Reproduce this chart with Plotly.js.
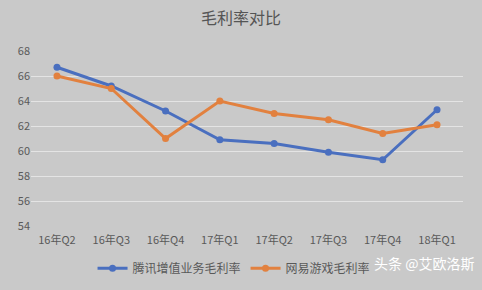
<!DOCTYPE html>
<html><head><meta charset="utf-8">
<script src="https://cdn.plot.ly/plotly-3.0.1.min.js"></script>
<style>html,body{margin:0;padding:0;background:#c9c9c9;}#c{width:482px;height:290px;}</style>
</head><body><div id="c"></div>
<script>
const categories = ["16年Q2","16年Q3","16年Q4","17年Q1","17年Q2","17年Q3","17年Q4","18年Q1"];
const tencent = [66.7, 65.2, 63.2, 60.9, 60.6, 59.9, 59.3, 63.3];
const netease = [66.0, 65.0, 61.0, 64.0, 63.0, 62.5, 61.4, 62.1];
const yTicks = [54,56,58,60,62,64,66,68];
const font = "Noto Sans CJK SC, sans-serif";
const traces = [
  {x: categories, y: tencent, name: "腾讯增值业务毛利率", type: "scatter", mode: "lines+markers",
   line: {color: "#4a6fbf", width: 3}, marker: {color: "#4a6fbf", size: 7}},
  {x: categories, y: netease, name: "网易游戏毛利率", type: "scatter", mode: "lines+markers",
   line: {color: "#e2813f", width: 3}, marker: {color: "#e2813f", size: 7}}
];
const layout = {
  width: 482, height: 290,
  paper_bgcolor: "#c9c9c9", plot_bgcolor: "#c9c9c9",
  margin: {l: 31, r: 19, t: 51, b: 64, autoexpand: false},
  title: {text: "毛利率对比", font: {family: font, size: 16, color: "#555555"}, x: 0.5, xanchor: "center", y: 0.955, yanchor: "top"},
  showlegend: true,
  legend: {orientation: "h", x: 0.47, xanchor: "center", yref: "container", y: 0.075, yanchor: "middle",
    font: {family: font, size: 12, color: "#595959"}, bgcolor: "rgba(0,0,0,0)", itemwidth: 30},
  xaxis: {type: "category", showgrid: false, zeroline: false, showline: false, ticks: "",
    ticklabelstandoff: 6, tickfont: {family: font, size: 11, color: "#595959"}},
  yaxis: {range: [54, 68], tickvals: yTicks, ticktext: yTicks.map(String), showgrid: true,
    gridcolor: "#e4e4e4", gridwidth: 1, zeroline: false, showline: false, ticks: "",
    tickfont: {family: font, size: 11, color: "#595959"}},
  annotations: [
    {text: "头条 @艾欧洛斯", xref: "paper", yref: "paper", x: 1.03, y: -0.21, xanchor: "right", yanchor: "middle",
     showarrow: false, font: {family: font, size: 14, color: "#ffffff"}}
  ]
};
Plotly.newPlot("c", traces, layout, {displayModeBar: false, staticPlot: true});
</script></body></html>
